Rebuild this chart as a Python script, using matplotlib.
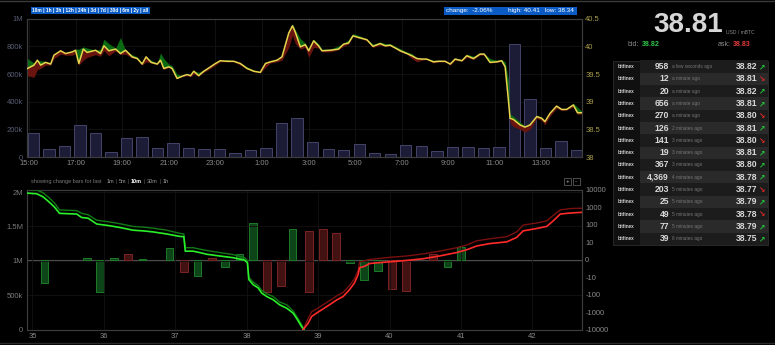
import numpy as np
import matplotlib
matplotlib.use('Agg')
import matplotlib.pyplot as plt
from matplotlib.patches import Rectangle
from matplotlib.ticker import NullLocator

plt.rcParams['font.family'] = ['Liberation Sans', 'DejaVu Sans']

# ---------- Data ----------
# top chart: time in hours after 15:00, price in USD / mBTC
price_t = [-0.08, 0.20, 0.35, 0.49, 0.70, 0.92, 1.06, 1.35, 1.56, 1.85, 1.99, 2.13, 2.32, 2.49,
           2.85, 3.06, 3.21, 3.42, 3.71, 3.92, 4.14, 4.42, 4.64, 4.85, 5.02, 5.24, 5.50, 5.64,
           5.78, 6.00, 6.14, 6.35, 6.57, 6.78, 6.93, 7.07, 7.28, 7.50, 7.79, 8.00, 8.21, 8.50,
           8.79, 9.07, 9.36, 9.65, 9.93, 10.15, 10.36, 10.65, 10.86, 11.15, 11.31, 11.43, 11.65,
           11.86, 12.01, 12.22, 12.43, 12.58, 12.94, 13.29, 13.51, 13.72, 13.91, 14.15, 14.51,
           14.77, 15.08, 15.30, 15.51, 15.73, 15.94, 16.23, 16.44, 16.66, 16.87, 17.08, 17.37,
           17.59, 17.87, 18.09, 18.30, 18.59, 18.80, 19.09, 19.37, 19.55, 19.80, 20.09, 20.30,
           20.45, 20.59, 20.66, 20.80, 21.09, 21.30, 21.52, 21.81, 22.02, 22.16, 22.38, 22.66,
           22.88, 23.09, 23.38, 23.56, 23.74]
price = [39.60, 39.66, 39.75, 39.66, 39.71, 39.68, 39.84, 39.92, 39.87, 39.90, 39.93, 39.69, 39.95, 39.89,
         39.93, 39.87, 40.01, 39.92, 39.95, 39.87, 39.93, 39.81, 39.78, 39.68, 39.81, 39.71, 39.68, 39.75,
         39.60, 39.63, 39.60, 39.42, 39.46, 39.49, 39.47, 39.55, 39.47, 39.55, 39.63, 39.69, 39.74, 39.73,
         39.73, 39.69, 39.60, 39.55, 39.53, 39.69, 39.72, 39.75, 39.81, 40.24, 40.37, 40.26, 39.99,
         40.03, 39.92, 40.10, 40.01, 39.92, 39.93, 39.95, 40.04, 40.06, 40.19, 40.16, 40.12,
         40.00, 40.05, 40.01, 40.02, 39.97, 39.92, 39.87, 39.83, 39.78, 39.77, 39.77, 39.72,
         39.73, 39.73, 39.68, 39.77, 39.74, 39.83, 39.78, 39.86, 39.86, 39.71, 39.72, 39.74,
         39.63, 39.03, 38.70, 38.68, 38.58, 38.54, 38.58, 38.73, 38.70, 38.64, 38.79, 38.92,
         38.86, 38.86, 38.94, 38.80, 38.80]
price_hi = [39.78, 39.70, 39.75, 39.74, 39.73, 39.70, 39.84, 39.93, 39.87, 39.90, 39.95, 39.95, 39.99, 39.97,
            39.93, 39.95, 40.13, 40.05, 39.97, 40.16, 39.93, 39.85, 39.81, 39.70, 39.81, 39.75, 39.70, 39.88,
            39.78, 39.68, 39.65, 39.50, 39.47, 39.49, 39.47, 39.56, 39.53, 39.58, 39.64, 39.70, 39.74, 39.76,
            39.74, 39.70, 39.63, 39.57, 39.53, 39.70, 39.74, 39.76, 39.82, 40.28, 40.41, 40.30, 40.14,
            40.06, 39.95, 40.13, 40.05, 39.95, 39.95, 40.01, 40.06, 40.12, 40.23, 40.20, 40.13,
            40.04, 40.08, 40.05, 40.05, 40.00, 39.96, 39.90, 39.87, 39.79, 39.78, 39.78, 39.75,
            39.75, 39.74, 39.69, 39.79, 39.76, 39.86, 39.82, 39.88, 39.87, 39.78, 39.75, 39.76,
            39.72, 39.40, 38.78, 38.74, 38.63, 38.56, 38.60, 38.76, 38.72, 38.66, 38.80, 38.94,
            38.87, 38.87, 38.97, 38.90, 38.83]
price_lo = [39.47, 39.44, 39.58, 39.60, 39.66, 39.66, 39.78, 39.86, 39.84, 39.84, 39.87, 39.66, 39.75, 39.80,
            39.85, 39.82, 39.92, 39.83, 39.92, 39.85, 39.86, 39.79, 39.77, 39.66, 39.72, 39.70, 39.67, 39.73,
            39.58, 39.62, 39.58, 39.42, 39.45, 39.47, 39.45, 39.50, 39.46, 39.53, 39.60, 39.66, 39.72, 39.72,
            39.72, 39.66, 39.59, 39.54, 39.52, 39.62, 39.70, 39.72, 39.75, 39.98, 40.20, 40.05, 39.95,
            39.98, 39.80, 39.98, 39.97, 39.90, 39.90, 39.94, 40.00, 40.04, 40.18, 40.15, 40.10,
            39.98, 40.02, 40.00, 40.01, 39.96, 39.90, 39.86, 39.78, 39.72, 39.75, 39.76, 39.70,
            39.72, 39.72, 39.66, 39.75, 39.73, 39.80, 39.76, 39.84, 39.84, 39.70, 39.71, 39.73,
            39.62, 39.00, 38.62, 38.55, 38.50, 38.45, 38.50, 38.70, 38.66, 38.58, 38.74, 38.88,
            38.84, 38.85, 38.90, 38.77, 38.78]

# traded volume per 40-minute bucket (thousands)
vol_t = 0.18 + np.arange(36) * 40 / 60
volume_k = [177, 56, 80, 228, 170, 34, 136, 143, 68, 99, 63, 56, 56, 29, 48, 63, 243, 285,
            106, 56, 48, 92, 27, 22, 85, 77, 43, 75, 70, 63, 72, 815, 422, 63, 113, 53]

hour_ticks = [0, 2, 4, 6, 8, 10, 12, 14, 16, 18, 20, 22]
hour_labels = ['15:00', '17:00', '19:00', '21:00', '23:00', '1:00', '3:00', '5:00',
               '7:00', '9:00', '11:00', '13:00']

# bottom chart: order book depth (cumulative, millions)
bid_px = [34.92, 35.06, 35.15, 35.24, 35.31, 35.38, 35.62, 35.69, 35.78, 35.90, 36.08, 36.22, 36.41,
          36.55, 36.69, 36.88, 37.06, 37.12, 37.14, 37.25, 37.34, 37.44, 37.62, 37.81, 37.97, 38.01,
          38.03, 38.09, 38.16, 38.21, 38.28, 38.37, 38.46, 38.56, 38.65, 38.70, 38.77, 38.80]
bid_depth = [1.985, 1.975, 1.93, 1.85, 1.78, 1.69, 1.68, 1.63, 1.62, 1.535, 1.51, 1.485, 1.445,
             1.435, 1.42, 1.39, 1.355, 1.35, 1.14, 1.14, 1.12, 1.095, 1.07, 1.045, 1.01, 0.97,
             0.727, 0.653, 0.605, 0.53, 0.48, 0.433, 0.36, 0.31, 0.238, 0.16, 0.04, 0.0]
bid_depth_prev = [2.04, 2.03, 1.99, 1.91, 1.84, 1.74, 1.73, 1.69, 1.67, 1.59, 1.565, 1.54, 1.50,
                  1.49, 1.475, 1.445, 1.40, 1.39, 1.19, 1.19, 1.17, 1.15, 1.12, 1.09, 1.045, 1.00,
                  0.76, 0.69, 0.64, 0.57, 0.52, 0.48, 0.40, 0.36, 0.27, 0.19, 0.07, 0.0]
ask_px = [38.79, 38.86, 38.91, 38.98, 39.07, 39.16, 39.26, 39.35, 39.44, 39.51, 39.56, 39.58, 39.65,
          39.72, 39.82, 40.00, 40.24, 40.47, 40.70, 40.94, 41.08, 41.22, 41.40, 41.64, 41.78, 41.87,
          42.06, 42.20, 42.29, 42.39, 42.53, 42.69]
ask_depth = [0.0, 0.09, 0.19, 0.24, 0.30, 0.36, 0.43, 0.48, 0.58, 0.68, 0.80, 0.90, 0.92,
             0.96, 0.97, 0.985, 1.005, 1.03, 1.07, 1.12, 1.16, 1.215, 1.25, 1.275, 1.34, 1.435,
             1.47, 1.50, 1.58, 1.68, 1.695, 1.705]
ask_depth_prev = [0.0, 0.16, 0.26, 0.30, 0.36, 0.42, 0.49, 0.54, 0.64, 0.74, 0.86, 0.98, 1.00,
                  1.02, 1.03, 1.05, 1.07, 1.10, 1.14, 1.19, 1.23, 1.29, 1.32, 1.35, 1.42, 1.52,
                  1.55, 1.58, 1.66, 1.74, 1.76, 1.765]

# change bars for the last 10m (price, bottom, top, side)
chg_px = [35.17, 35.76, 35.95, 36.14, 36.34, 36.54, 36.92, 37.12, 37.31, 37.51, 37.70, 37.90, 38.09,
          38.28, 38.48, 38.64, 38.87, 39.07, 39.25, 39.45, 39.64, 39.84, 40.03, 40.23, 40.61, 40.81, 41.00]
chg_lo = [-22, 0, -70, 0, 0, 0, 0, -6.8, -9.6, 0, -4.2, 0, 0,
          -70, -32, 0, -70, 0, 0, -2, -14, -6.2, -49, -65, 0, -4.2, 0]
chg_hi = [0, 1, 0, 1, 3.3, 0.6, 7, 0, 0, 1, 0, 3.3, 120,
          0, 0, 60, 43, 60, 35, 0, 0, 0, 0, 0, 3.5, 0, 7.3]
chg_side = ['b', 'b', 'b', 'b', 'a', 'b', 'b', 'a', 'b', 'a', 'b', 'b', 'b',
            'a', 'a', 'b', 'a', 'a', 'a', 'b', 'b', 'b', 'a', 'a', 'a', 'b', 'b']

# recent trades
trade_amount = ['958', '12', '20', '656', '270', '126', '141', '19', '367', '4,369', '203', '25', '49', '77', '39']
trade_ago = ['a few seconds ago', 'a minute ago', 'a minute ago', 'a minute ago', 'a minute ago',
             '2 minutes ago', '3 minutes ago', '3 minutes ago', '3 minutes ago', '4 minutes ago',
             '5 minutes ago', '5 minutes ago', '5 minutes ago', '5 minutes ago', '6 minutes ago']
trade_price = ['38.82', '38.81', '38.82', '38.81', '38.80', '38.81', '38.80', '38.81', '38.80',
               '38.78', '38.77', '38.79', '38.78', '38.79', '38.75']
trade_up = [1, 0, 1, 1, 0, 1, 0, 1, 1, 1, 0, 1, 0, 1, 1]

# ---------- Layout helpers (pixel -> figure fraction) ----------
W, H = 775, 345
BG = '#000000'


def fx(x):
    return x / W


def fy(y):
    return 1 - y / H


def box(fig, x0, y0, x1, y1, fc, ec='none', lw=0.6):
    fig.add_artist(Rectangle((fx(x0), fy(y1)), (x1 - x0) / W, (y1 - y0) / H,
                             transform=fig.transFigure, facecolor=fc, edgecolor=ec, linewidth=lw))


fig = plt.figure(figsize=(W / 100, H / 100), dpi=100, facecolor=BG)

# frame lines at top and bottom of the page
fig.add_artist(plt.Line2D([0, 1], [fy(1), fy(1)], transform=fig.transFigure, color='#3a3a3a', lw=1))
fig.add_artist(plt.Line2D([0, 1], [fy(343), fy(343)], transform=fig.transFigure, color='#2a2a2a', lw=1))

L, R = 26.7, 581.7


def style_axes(ax):
    ax.set_facecolor(BG)
    for sp in ax.spines.values():
        sp.set_color('#3c3c3c')
        sp.set_linewidth(0.8)
    ax.tick_params(length=0, labelsize=5.5, pad=2.5)


# ---------- Top chart: volume + price ----------
ax_vol = fig.add_axes([fx(L), fy(157), (R - L) / W, (157 - 18.7) / H])
style_axes(ax_vol)
ax_vol.bar(vol_t, np.array(volume_k) * 1000, width=0.49, color='#1c1c36',
           edgecolor='#44446a', linewidth=0.7, zorder=2)
ax_vol.set_xlim(-0.11, 23.74)
ax_vol.set_ylim(0, 1e6)
ax_vol.set_yticks([0, 2e5, 4e5, 6e5, 8e5, 1e6])
ax_vol.set_yticklabels(['0', '200k', '400k', '600k', '800k', '1M'], color='#585c74')
ax_vol.set_xticks(hour_ticks)
ax_vol.set_xticklabels(hour_labels, color='#8a8a8a')
ax_vol.grid(True, color='#141414', lw=0.6, zorder=0)

ax_px = ax_vol.twinx()
style_axes(ax_px)
ax_px.patch.set_visible(False)
ax_px.fill_between(price_t, price, price_hi, color='#0b6a12', lw=0, zorder=2)
ax_px.fill_between(price_t, price_lo, price, color='#6a1410', lw=0, zorder=2)
ax_px.plot(price_t, price, color='#e8d44d', lw=1.1, zorder=3)
ax_px.set_ylim(38, 40.5)
ax_px.set_yticks([38, 38.5, 39, 39.5, 40, 40.5])
ax_px.set_yticklabels(['38', '38.5', '39', '39.5', '40', '40.5'], color='#a89e4c')

# ---------- Bottom chart: depth + change bars ----------
ax_d = fig.add_axes([fx(L), fy(329.5), (R - L) / W, (329.5 - 190) / H])
style_axes(ax_d)
ax_chg = ax_d.twinx()
style_axes(ax_chg)
ax_d.set_zorder(ax_chg.get_zorder() + 1)
ax_d.patch.set_visible(False)

ax_chg.set_yscale('symlog', linthresh=10, linscale=0.9)
ax_chg.set_ylim(-10000, 10000)
for p, lo, hi, s in zip(chg_px, chg_lo, chg_hi, chg_side):
    fc, ec = ('#0d4418', '#1d7a2a') if s == 'b' else ('#421212', '#7a2424')
    ax_chg.bar(p, hi - lo, bottom=lo, width=0.108, color=fc, edgecolor=ec, linewidth=0.7, zorder=2)
ax_chg.axhline(0, color='#4a4a4a', lw=0.8, zorder=1)
chg_ticks = [-10000, -1000, -100, -10, 0, 10, 100, 1000, 10000]
ax_chg.set_yticks(chg_ticks)
ax_chg.set_yticklabels([str(v) for v in chg_ticks], color='#8a8a8a')
ax_chg.yaxis.set_minor_locator(NullLocator())

ax_d.plot(bid_px, np.array(bid_depth_prev) * 1e6, color='#127a16', lw=1.0, zorder=3)
ax_d.plot(bid_px, np.array(bid_depth) * 1e6, color='#2af02a', lw=1.2, zorder=4)
ax_d.plot(ask_px, np.array(ask_depth_prev) * 1e6, color='#7a1010', lw=1.0, zorder=3)
ax_d.plot(ask_px, np.array(ask_depth) * 1e6, color='#ff2a2a', lw=1.2, zorder=4)
ax_d.set_xlim(34.92, 42.69)
ax_d.set_ylim(0, 2.03e6)
ax_d.set_xticks(range(35, 43))
ax_d.set_xticklabels([str(v) for v in range(35, 43)], color='#8a8a8a')
ax_d.set_yticks([0, 5e5, 1e6, 1.5e6, 2e6])
ax_d.set_yticklabels(['0', '500k', '1M', '1.5M', '2M'], color='#7a7a7a')
ax_d.grid(True, color='#121212', lw=0.6)

# ---------- Header bars ----------
box(fig, 31, 7, 150, 14, '#0a5cc4')
fig.text(fx(90.5), fy(10.6), '10m | 1h | 3h | 12h | 24h | 3d | 7d | 30d | 6m | 2y | all',
         color='white', fontsize=3.4, ha='center', va='center', fontweight='bold')

box(fig, 444, 7, 577, 14.5, '#0a5cc4')
fig.text(fx(446), fy(10.8), 'change:  -2.06%', color='white', fontsize=4.6, va='center')
fig.text(fx(508), fy(10.8), 'high: 40.41', color='white', fontsize=4.6, va='center')
fig.text(fx(545), fy(10.8), 'low: 38.34', color='white', fontsize=4.6, va='center')

fig.text(fx(31), fy(181), 'showing change bars for last', color='#7a7a7a', fontsize=4, va='center')
for lab, x0, col in [('1m', 107, '#9a9a9a'), ('5m', 119, '#9a9a9a'), ('10m', 131, '#ffffff'),
                     ('30m', 147, '#9a9a9a'), ('1h', 163, '#9a9a9a')]:
    fig.text(fx(x0), fy(181), lab, color=col, fontsize=4,
             va='center', fontweight='bold' if lab == '10m' else 'normal')
for x0 in [115.5, 128, 144, 160]:
    fig.text(fx(x0), fy(181), '|', color='#5a5a5a', fontsize=4, va='center')
for x0, s in [(564, '+'), (573, '-')]:
    box(fig, x0, 178, x0 + 6.5, 184.5, BG, ec='#6a6a6a', lw=0.5)
    fig.text(fx(x0 + 3.25), fy(181.3), s, color='#bbbbbb', fontsize=4.5, ha='center', va='center')

# ---------- Right panel: last price + trades ----------
fig.text(fx(688), fy(25), '38.81', color='#d6d6d6', fontsize=20, fontweight='bold',
         ha='center', va='center')
fig.text(fx(726), fy(32), 'USD / mBTC', color='#8a8a8a', fontsize=3.6, va='center')
fig.text(fx(628), fy(44), 'bid:', color='#8a8a8a', fontsize=5, va='center')
fig.text(fx(642), fy(44), '38.82', color='#2ec44a', fontsize=5, va='center', fontweight='bold')
fig.text(fx(718), fy(44), 'ask:', color='#8a8a8a', fontsize=5, va='center')
fig.text(fx(733), fy(44), '38.83', color='#e23a3a', fontsize=5, va='center', fontweight='bold')

row_h = 12.29
top0 = 60.5
box(fig, 613, top0, 768, top0 + row_h * len(trade_amount), '#101010', ec='#2e2e2e', lw=0.6)
for i in range(len(trade_amount)):
    y0 = top0 + i * row_h
    yc = y0 + row_h / 2
    box(fig, 640, y0, 768, y0 + row_h, '#1c1c1c' if i % 2 == 0 else '#2a2a2a')
    fig.text(fx(626.5), fy(yc), 'bitfinex', color='#d0d0d0', fontsize=3.3,
             fontweight='bold', ha='center', va='center')
    fig.text(fx(669), fy(yc), trade_amount[i], color='#d8d8d8', fontsize=6.2,
             fontweight='bold', ha='right', va='center')
    fig.text(fx(672), fy(yc), trade_ago[i], color='#777777', fontsize=3.4, va='center')
    fig.text(fx(757), fy(yc), trade_price[i], color='#d8d8d8', fontsize=6.2,
             fontweight='bold', ha='right', va='center')
    up = trade_up[i] == 1
    fig.text(fx(762.5), fy(yc), '\u2197' if up else '\u2198', color='#22c83a' if up else '#e02828',
             fontsize=5.5, fontweight='bold', ha='center', va='center', family='DejaVu Sans')

fig.savefig('out.png', dpi=100, facecolor=BG)
